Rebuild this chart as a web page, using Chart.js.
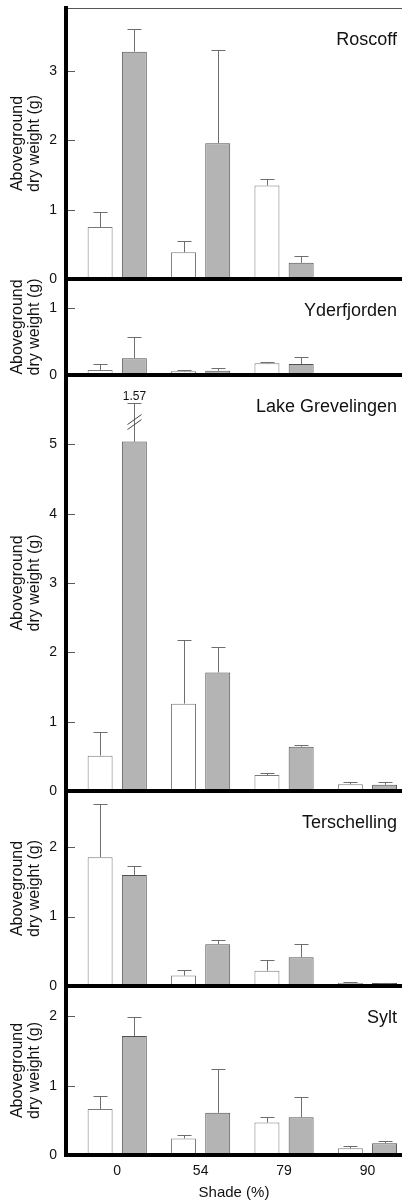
<!DOCTYPE html>
<html><head><meta charset="utf-8">
<script src="https://cdn.jsdelivr.net/npm/chart.js@4/dist/chart.umd.min.js"></script>
<style>
html,body{margin:0;padding:0;background:#fff;}
#wrap{position:relative;width:402px;height:1204px;overflow:hidden;}
canvas{position:absolute;left:0;}
</style></head><body><div id="wrap"></div>
<script>
const $ = sel => document.querySelector(sel);

// shade treatments (x) and sites (one panel each)
const shades = ['0','54','79','90'];
const sites = ['Roscoff','Yderfjorden','Lake Grevelingen','Terschelling','Sylt'];

// mean aboveground dry weight (g) and SE, open = white bars, grey = filled bars
const roscoffOpen = [0.75, 0.385, 1.35, 0.01];
const roscoffOpenSE = [0.21, 0.165, 0.09, 0];
const roscoffGrey = [3.28, 1.96, 0.235, 0.01];
const roscoffGreySE = [0.32, 1.35, 0.10, 0];

const yderOpen = [0.075, 0.055, 0.175, 0.01];
const yderOpenSE = [0.085, 0.015, 0.02, 0];
const yderGrey = [0.25, 0.064, 0.164, 0.005];
const yderGreySE = [0.31, 0.045, 0.11, 0];

const grevOpen = [0.51, 1.26, 0.23, 0.097];
const grevOpenSE = [0.345, 0.92, 0.034, 0.033];
const grevGrey = [5.04, 1.71, 0.64, 0.09];
const grevGreySE = [1.57, 0.37, 0.03, 0.04];

const terschOpen = [1.857, 0.15, 0.22, 0.048];
const terschOpenSE = [0.765, 0.077, 0.15, 0.004];
const terschGrey = [1.60, 0.60, 0.414, 0.045];
const terschGreySE = [0.125, 0.062, 0.196, 0.004];

const syltOpen = [0.664, 0.24, 0.47, 0.097];
const syltOpenSE = [0.19, 0.044, 0.072, 0.03];
const syltGrey = [1.717, 0.61, 0.544, 0.17];
const syltGreySE = [0.27, 0.625, 0.30, 0.037];

// y axis range and tick labels per panel
const yMax = [3.91, 1.43, 6, 2.81, 2.44];
const yTicks = [[0,1,2,3],[0,1],[0,1,2,3,4,5],[0,1,2],[0,1,2]];

// where the off-scale error bar is cut (Lake Grevelingen, 0 %)
const breakAt = 5.3, breakTop = 5.59;

// panel plot areas in page pixels (top line, zero line)
const areas = [[8,279],[279,375],[375,791],[791,986],[986,1155]];
const xMin = -0.614, xMax = 3.414;

Chart.defaults.font.family = "'Liberation Sans', Arial, sans-serif";
Chart.defaults.color = '#111';

function seg(ctx, x1, y1, x2, y2){ ctx.beginPath(); ctx.moveTo(x1,y1); ctx.lineTo(x2,y2); ctx.stroke(); }
function noPad(s){ s.paddingTop = s.paddingBottom = s.paddingLeft = s.paddingRight = 0; }

const errBars = {
  id:'errBars',
  afterDatasetsDraw(c){
    const {ctx} = c, y = c.scales.y;
    ctx.save(); ctx.lineWidth = 1;
    // short inward tick marks on the y axis
    ctx.strokeStyle = '#5a5a5a';
    y.ticks.forEach(t=>{
      if (t.value === 0) return;
      const py = Math.round(y.getPixelForValue(t.value)) + 0.5;
      seg(ctx, y.right, py, y.right + 9, py);
    });
    ctx.strokeStyle = '#6e6e6e';
    c.data.datasets.forEach((ds, di)=>{
      c.getDatasetMeta(di).data.forEach((bar, i)=>{
        const se = ds.se[i]; if (!se) return;
        const top = ds.data[i].y + se, broken = top > y.max;
        const x = Math.round(bar.x) + 0.5;
        const yt = Math.round(y.getPixelForValue(broken ? breakTop : top)) + 0.5;
        seg(ctx, x, bar.y, x, yt); seg(ctx, x-7, yt, x+7, yt);
        if (broken){
          // "//" cut marks on the off-scale whisker
          const yb = y.getPixelForValue(breakAt);
          ctx.strokeStyle = '#444';
          seg(ctx, x-7, yb+1, x+7, yb-9); seg(ctx, x-7, yb+6, x+7, yb-4);
          ctx.fillStyle = '#111'; ctx.font = "12px 'Liberation Sans', Arial, sans-serif";
          ctx.textAlign = 'center'; ctx.textBaseline = 'bottom';
          ctx.fillText(se.toFixed(2), x, yt - 1);
          ctx.strokeStyle = '#6e6e6e';
        }
      });
    });
    ctx.restore();
  }
};

const siteName = {
  id:'siteName',
  afterDraw(c, args, opt){
    const {ctx, chartArea:a} = c;
    ctx.save(); ctx.fillStyle = '#111'; ctx.font = "18px 'Liberation Sans', Arial, sans-serif";
    ctx.textAlign = 'right'; ctx.textBaseline = 'alphabetic';
    ctx.fillText(opt.text, a.right - 5, a.top + 37);
    ctx.restore();
  }
};

function panel(k, open, openSE, grey, greySE){
  const [top, zero] = areas[k], last = k === areas.length - 1;
  const padTop = 4, padBot = last ? 0 : 4, xh = last ? 49 : 0;
  const cv = document.createElement('canvas');
  cv.width = 402; cv.height = padTop + (zero - top) + xh + padBot;
  cv.style.top = (top - padTop) + 'px';
  $('#wrap').appendChild(cv);

  const scales = {
    x:{ type:'linear', min:xMin, max:xMax, offset:false,
      afterBuildTicks: s=>{ s.ticks = shades.map((_, i)=>({value:i})); },
      afterFit: s=>{ s.height = xh; noPad(s); },
      grid:{ display:false, drawTicks:false, offset:false },
      border:{ color:'#000', width:4, z:1 },
      ticks:{ display:last, callback:v=>shades[v], font:{size:14}, padding:8, autoSkip:false, maxRotation:0 },
      title:{ display:last, text:'Shade (%)', font:{size:15}, padding:{top:0, bottom:2} } },
    y:{ min:0, max:yMax[k],
      afterBuildTicks: s=>{ s.ticks = yTicks[k].map(v=>({value:v})); },
      afterFit: s=>{ s.width = 66; noPad(s); },
      grid:{ display:false, drawTicks:false },
      border:{ color:'#000', width:4, z:1 },
      ticks:{ padding:9, font:{size:14} },
      title:{ display:true, text:['Aboveground','dry weight (g)'], font:{size:16, lineHeight:1.0625}, padding:{top:9.5, bottom:0} } }
  };
  if (k === 0) scales.xt = { type:'linear', position:'top', min:0, max:1,
    afterFit: s=>{ s.height = 0; noPad(s); },
    grid:{ display:false, drawTicks:false }, ticks:{ display:false },
    border:{ color:'#555', width:1 } };

  new Chart(cv, {
    type:'bar',
    data:{ datasets:[
      { data: open.map((v, i)=>({x:i, y:v})), se: openSE, xAxisID:'x', yAxisID:'y',
        backgroundColor:'#fff', borderColor:'#7a7a7a', borderWidth:1 },
      { data: grey.map((v, i)=>({x:i, y:v})), se: greySE, xAxisID:'x', yAxisID:'y',
        backgroundColor:'#b4b4b4', borderColor:'#505050', borderWidth:1 }
    ]},
    options:{
      responsive:false, animation:false, devicePixelRatio:1,
      layout:{ padding:{ top:padTop, bottom:padBot, left:0, right:0 } },
      categoryPercentage:0.82, barPercentage:0.73,
      plugins:{ legend:{display:false}, tooltip:{enabled:false}, siteName:{ text:sites[k] } },
      scales
    },
    plugins:[errBars, siteName]
  });
}

panel(0, roscoffOpen, roscoffOpenSE, roscoffGrey, roscoffGreySE);
panel(1, yderOpen, yderOpenSE, yderGrey, yderGreySE);
panel(2, grevOpen, grevOpenSE, grevGrey, grevGreySE);
panel(3, terschOpen, terschOpenSE, terschGrey, terschGreySE);
panel(4, syltOpen, syltOpenSE, syltGrey, syltGreySE);
</script>
</body></html>
